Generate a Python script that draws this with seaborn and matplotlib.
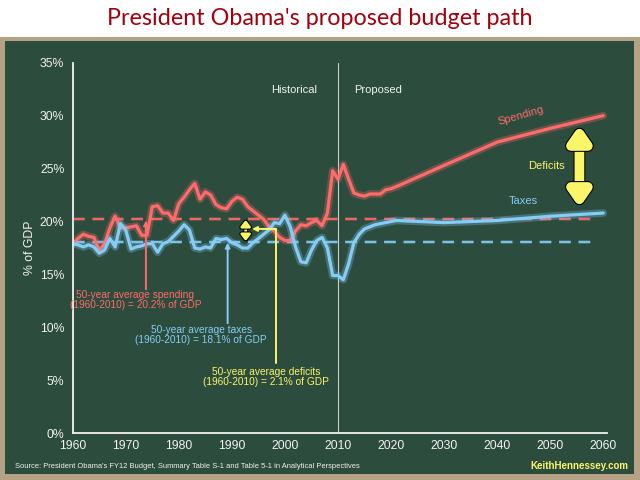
import pandas as pd
import matplotlib
matplotlib.use("Agg")
import matplotlib.pyplot as plt
import matplotlib.patheffects as pe
from matplotlib.patches import Rectangle
import seaborn as sns

# --- data (% of GDP) ---
hist_years = list(range(1960, 2011))
hist_spending = [17.9, 18.4, 18.8, 18.6, 18.5, 17.3, 17.9, 19.4, 20.5, 19.4,
                 19.4, 19.5, 19.6, 18.7, 18.7, 21.4, 21.5, 20.8, 20.8, 20.1,
                 21.7, 22.3, 23.0, 23.6, 22.1, 22.8, 22.5, 21.6, 21.3, 21.2,
                 21.9, 22.3, 22.1, 21.4, 21.0, 20.6, 20.2, 19.5, 19.1, 18.5,
                 18.2, 18.2, 19.1, 19.7, 19.6, 19.9, 20.1, 19.6, 20.8, 24.8,
                 24.0]
hist_taxes = [17.9, 17.8, 17.6, 17.8, 17.6, 17.0, 17.3, 18.4, 17.6, 19.8,
              19.2, 17.4, 17.6, 17.7, 17.9, 17.9, 17.1, 17.9, 18.1, 18.6,
              19.1, 19.7, 19.2, 17.5, 17.4, 17.6, 17.5, 18.4, 18.3, 18.4,
              18.0, 17.8, 17.5, 17.5, 18.0, 18.4, 18.8, 19.2, 19.9, 19.8,
              20.6, 19.5, 17.6, 16.2, 16.1, 17.3, 18.2, 18.5, 17.5, 14.9,
              14.9]
prop_years = [2010, 2011, 2012, 2013, 2014, 2015, 2016, 2017, 2018, 2019,
              2020, 2021, 2030, 2040, 2050, 2060]
prop_spending = [24.0, 25.4, 24.0, 22.7, 22.5, 22.4, 22.6, 22.6, 22.6, 23.0,
                 23.1, 23.3, 25.3, 27.5, 28.8, 30.0]
prop_taxes = [14.9, 14.5, 16.0, 18.0, 18.8, 19.3, 19.5, 19.7, 19.8, 19.9,
              20.0, 20.1, 19.9, 20.1, 20.5, 20.8]

avg_spending = 20.2
avg_taxes = 18.1

df = pd.DataFrame({
    "year": hist_years + prop_years[1:],
    "spending": hist_spending + prop_spending[1:],
    "taxes": hist_taxes + prop_taxes[1:],
})

RED = "#ff6b6b"
BLUE = "#85cdf7"
YELLOW = "#fbf56a"
GREEN = "#2c4c3d"
TAN = "#b5a183"
FG = "#f2f2f2"

sns.set_style("white")
plt.rcParams["font.family"] = ["Liberation Sans", "DejaVu Sans"]

fig = plt.figure(figsize=(6.4, 4.8), dpi=100, facecolor="white")
fig.patches.append(Rectangle((0, 0), 1, 443 / 480, transform=fig.transFigure,
                             facecolor=TAN, edgecolor="none", zorder=-3))
fig.patches.append(Rectangle((5 / 640, 6 / 480), 629 / 640, 433 / 480,
                             transform=fig.transFigure, facecolor=GREEN,
                             edgecolor="none", zorder=-2))

fig.text(0.5, 0.962, "President Obama's proposed budget path", ha="center",
         va="center", fontsize=16.8, color="#a3000d", family="Lato")

ax = fig.add_axes([72.7 / 640, 46.7 / 480, 534.3 / 640, 370.6 / 480])
ax.set_facecolor("none")

glow_r = [pe.Stroke(linewidth=5.5, foreground=RED, alpha=0.3), pe.Normal()]
glow_b = [pe.Stroke(linewidth=5.5, foreground=BLUE, alpha=0.3), pe.Normal()]

# averages
ax.plot([1960, 2059], [avg_spending] * 2, color=RED, lw=1.4, dashes=(6, 4),
        alpha=0.9, path_effects=[pe.Stroke(linewidth=3, foreground=RED, alpha=0.25), pe.Normal()])
ax.plot([1960, 2059], [avg_taxes] * 2, color=BLUE, lw=1.4, dashes=(6, 4),
        alpha=0.9, path_effects=[pe.Stroke(linewidth=3, foreground=BLUE, alpha=0.25), pe.Normal()])

sns.lineplot(data=df, x="year", y="spending", ax=ax, color=RED, lw=2.3,
             path_effects=glow_r)
sns.lineplot(data=df, x="year", y="taxes", ax=ax, color=BLUE, lw=2.3,
             path_effects=glow_b)

ax.axvline(2010, color="#cfcfcf", lw=0.8, zorder=1)

ax.set_xlim(1960, 2060.7)
ax.set_ylim(0, 35)
ax.set_xticks(range(1960, 2061, 10))
ax.set_yticks(range(0, 36, 5))
ax.set_yticklabels([f"{v}%" for v in range(0, 36, 5)])
ax.tick_params(axis="x", direction="in", length=4, width=1.2, colors=FG,
               labelsize=8.8, pad=5)
ax.tick_params(axis="y", direction="out", length=4, width=1.2, colors=FG,
               labelsize=8.8, pad=2)
for side in ["top", "right"]:
    ax.spines[side].set_visible(False)
for side in ["left", "bottom"]:
    ax.spines[side].set_color(FG)
    ax.spines[side].set_linewidth(1.3)
ax.set_xlabel("")
ax.set_ylabel("% of GDP", color=FG, fontsize=8.8, labelpad=3)

ax.text(2001.8, 32.4, "Historical", ha="center", va="center", color=FG, fontsize=8)
ax.text(2017.5, 32.4, "Proposed", ha="center", va="center", color=FG, fontsize=8)

ax.text(2044.5, 30.0, "Spending", ha="center", va="center", color=RED,
        fontsize=8, rotation=16)
ax.text(2045, 21.9, "Taxes", ha="center", va="center", color=BLUE, fontsize=8)
ax.text(2049.2, 25.2, "Deficits", ha="center", va="center", color=YELLOW, fontsize=8)

big = ax.annotate("", xy=(2055.5, 21.3), xytext=(2055.5, 29.1),
                  arrowprops=dict(arrowstyle="<|-|>,head_width=0.38,head_length=0.55",
                                  color=YELLOW, lw=7, mutation_scale=16,
                                  shrinkA=0, shrinkB=0))
big.arrow_patch.set_path_effects([pe.Stroke(linewidth=8.5, foreground="black"), pe.Normal()])

small = ax.annotate("", xy=(1992.6, 18.15), xytext=(1992.6, 20.15),
                    arrowprops=dict(arrowstyle="<|-|>,head_width=0.35,head_length=0.45",
                                    color=YELLOW, lw=2, mutation_scale=8,
                                    shrinkA=0, shrinkB=0))
small.arrow_patch.set_path_effects([pe.Stroke(linewidth=3.5, foreground="black"), pe.Normal()])

# average annotations
ax.annotate("", xy=(1973.8, 20.1), xytext=(1973.8, 13.6),
            arrowprops=dict(arrowstyle="-|>", color=RED, lw=1.4, mutation_scale=7,
                            shrinkA=0, shrinkB=0))
ax.text(1971.8, 12.6, "50-year average spending\n(1960-2010) = 20.2% of GDP",
        ha="center", va="center", color=RED, fontsize=7.3, linespacing=1.0)

ax.annotate("", xy=(1989.2, 18.0), xytext=(1989.2, 10.4),
            arrowprops=dict(arrowstyle="-|>", color=BLUE, lw=1.4, mutation_scale=7,
                            shrinkA=0, shrinkB=0))
ax.text(1984.2, 9.3, "50-year average taxes\n(1960-2010) = 18.1% of GDP",
        ha="center", va="center", color=BLUE, fontsize=7.3, linespacing=1.0)

ax.plot([1998.3, 1998.3], [6.6, 19.3], color=YELLOW, lw=1.4)
ax.annotate("", xy=(1993.8, 19.3), xytext=(1998.3, 19.3),
            arrowprops=dict(arrowstyle="-|>", color=YELLOW, lw=1.4, mutation_scale=7,
                            shrinkA=0, shrinkB=0))
ax.text(1996.4, 5.3, "50-year average deficits\n(1960-2010) = 2.1% of GDP",
        ha="center", va="center", color=YELLOW, fontsize=7.3, linespacing=1.0)

fig.text(15 / 640, 1 - 466 / 480,
         "Source: President Obama's FY12 Budget, Summary Table S-1 and Table 5-1 in Analytical Perspectives",
         ha="left", va="center", color=FG, fontsize=5.4)
fig.text(628 / 640, 1 - 466 / 480, "KeithHennessey.com", ha="right", va="center",
         color=YELLOW, fontsize=7, fontweight="bold")

fig.savefig("out.png", dpi=100, facecolor=fig.get_facecolor())
